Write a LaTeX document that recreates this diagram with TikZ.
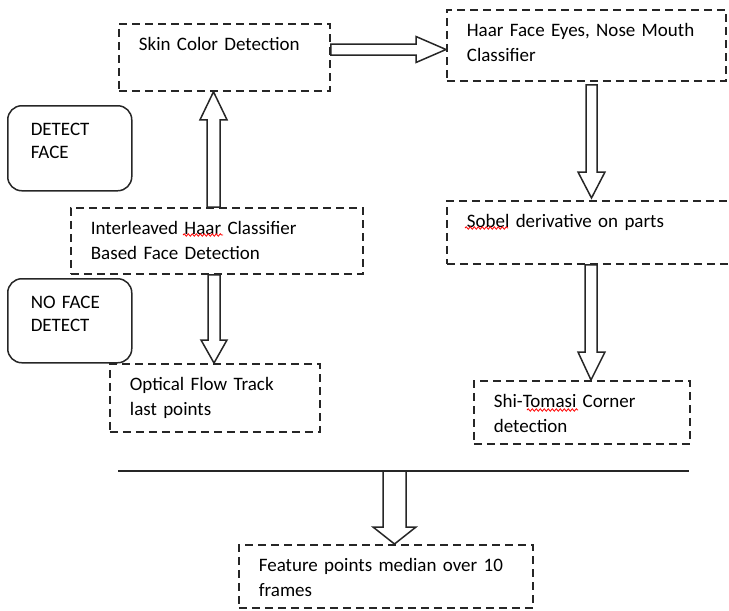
\documentclass[tikz,border=0pt]{standalone}
\usepackage{fontspec}
\setmainfont{Carlito}
\usepackage{tikz}
\usetikzlibrary{calc,decorations.pathmorphing}

\begin{document}
\begin{tikzpicture}
      [x=1pt, y=1pt,
      flow box/.style={draw=black!85, dash pattern=on 8pt off 5pt, line width=1.8pt, anchor=north west, inner xsep=20pt, inner ysep=0pt, align=left, text height=27pt, font=\fontsize{19}{25}\selectfont, text=black},
      state box/.style={draw=black!85, line width=1.5pt, rounded corners=14pt, anchor=north west, inner xsep=23pt, inner ysep=0pt, align=left, text height=30pt, text width=78pt, font=\fontsize{19}{23}\selectfont, text=black},
      hollow/.style={draw=black!85, line width=1.5pt, fill=white, line join=miter},
      bar/.style={draw=black!85, line width=1.5pt},
      spell/.style={draw=red, line width=0.8pt, decorate, decoration={snake, segment length=4pt, amplitude=1.2pt}},
      ]

      \useasboundingbox (0,0) rectangle (729,-611);

      \node[flow box, text width=171pt, text depth=40pt] (skin) at (118,-23) {Skin Color Detection};
      \node[flow box, text width=239pt, text depth=44pt] (haar) at (446,-9) {Haar Face Eyes, Nose Mouth\\Classifier};
      \node[state box, text depth=55pt] (detect) at (7,-105) {DETECT\\FACE};
      \node[flow box, text width=252pt, text depth=39pt] (inter) at (70,-207) {Interleaved Haar Classifier\\Based Face Detection};
      \node[state box, text depth=54pt] (noface) at (7,-278) {NO FACE\\DETECT};
      \node[flow box, text width=170pt, text depth=41pt] (optical) at (109,-363) {Optical Flow Track\\last points};
      \node[flow box, text width=270pt, text depth=36pt] (sobel) at (446,-200) {Sobel derivative on parts};
      \node[flow box, text width=176pt, text depth=36pt] (shi) at (473,-380) {Shi-Tomasi Corner\\detection};
      \node[flow box, text width=254pt, text depth=36pt] (feature) at (238,-544) {Feature points median over 10\\frames};

      \draw[spell] (183,-235) -- (223,-235);
      \draw[spell] (465,-228) -- (508,-228);
      \draw[spell] (527,-410) -- (578,-410);

      \coordinate (barL) at (118,-471);
      \coordinate (barR) at (689,-471);
      \draw[bar] (barL) -- (barR);

      \draw[hollow] let \p1=(skin.east), \p2=(haar.west) in
        (\x1,-44pt) -- (\x2-30pt,-44pt) -- (\x2-30pt,-36.5pt) -- (\x2,-49.5pt)
        -- (\x2-30pt,-62.5pt) -- (\x2-30pt,-55pt) -- (\x1,-55pt) -- cycle;
      \draw[hollow] let \p1=(inter.north), \p2=(skin.south) in
        (207pt,\y1) -- (207pt,\y2-28pt) -- (200pt,\y2-28pt) -- (213.5pt,\y2)
        -- (227pt,\y2-28pt) -- (220pt,\y2-28pt) -- (220pt,\y1) -- cycle;
      \draw[hollow] let \p1=(inter.south), \p2=(optical.north) in
        (208pt,\y1) -- (208pt,\y2+23pt) -- (201pt,\y2+23pt) -- (214pt,\y2)
        -- (227pt,\y2+23pt) -- (220pt,\y2+23pt) -- (220pt,\y1) -- cycle;
      \draw[hollow] let \p1=(haar.south), \p2=(sobel.north) in
        (586pt,\y1-3pt) -- (586pt,\y2+28pt) -- (578pt,\y2+28pt) -- (591.5pt,\y2+2pt)
        -- (605pt,\y2+28pt) -- (597pt,\y2+28pt) -- (597pt,\y1-3pt) -- cycle;
      \draw[hollow] let \p1=(sobel.south), \p2=(shi.north) in
        (585pt,\y1) -- (585pt,\y2+28pt) -- (578pt,\y2+28pt) -- (591pt,\y2)
        -- (605pt,\y2+28pt) -- (597pt,\y2+28pt) -- (597pt,\y1) -- cycle;
      \draw[hollow] let \p1=(barL), \p2=(feature.north) in
        (383pt,\y1) -- (383pt,\y2+17pt) -- (373pt,\y2+17pt) -- (394.5pt,\y2)
        -- (416pt,\y2+17pt) -- (406pt,\y2+17pt) -- (406pt,\y1) -- cycle;
    \end{tikzpicture}
\end{document}
